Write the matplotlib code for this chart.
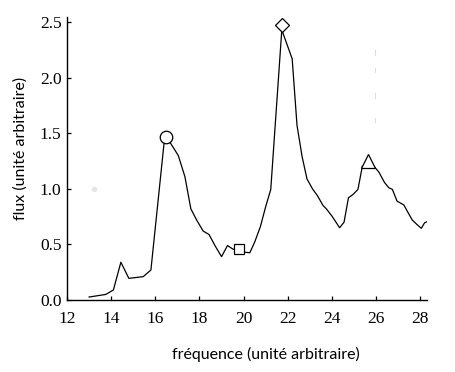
import matplotlib
matplotlib.use("Agg")
import matplotlib.pyplot as plt

freq = [13.0, 13.75, 14.1, 14.44, 14.8, 15.45, 15.8, 16.4, 16.66, 17.04, 17.34, 17.61,
        17.87, 18.17, 18.43, 18.73, 19.0, 19.27, 19.53, 19.78, 20.05, 20.28, 20.5, 20.76,
        21.0, 21.23, 21.73, 22.2, 22.42, 22.65, 22.87, 23.12, 23.34, 23.6, 23.75, 24.02,
        24.35, 24.55, 24.75, 24.96, 25.18, 25.38, 25.63, 25.9, 26.13, 26.39, 26.58, 26.74,
        26.95, 27.26, 27.44, 27.64, 27.85, 28.05, 28.2, 28.38]
flux = [0.027, 0.05, 0.09, 0.34, 0.195, 0.21, 0.27, 1.42, 1.42, 1.30, 1.11, 0.82,
        0.72, 0.62, 0.59, 0.48, 0.39, 0.49, 0.456, 0.456, 0.43, 0.425, 0.52, 0.66,
        0.84, 0.995, 2.43, 2.17, 1.57, 1.29, 1.09, 1.00, 0.94, 0.85, 0.82, 0.75,
        0.65, 0.70, 0.92, 0.95, 0.995, 1.205, 1.205, 1.205, 1.15, 1.055, 1.01, 0.995,
        0.89, 0.855, 0.79, 0.72, 0.68, 0.645, 0.695, 0.71]

marker_x = [16.47, 19.78, 21.73, 25.63]
marker_y = [1.47, 0.455, 2.47, 1.25]
marker_shapes = ['o', 's', 'D', '^']
marker_sizes = [9, 7.5, 7, 10]

xticks = [12, 14, 16, 18, 20, 22, 24, 26, 28]
yticks = [0.0, 0.5, 1.0, 1.5, 2.0, 2.5]

fig = plt.figure(figsize=(4.56, 3.72), dpi=100)
ax = fig.add_axes([0.147, 0.1935, 0.789, 0.762])
ax.plot(freq, flux, color='black', lw=0.9)
for mx, my, ms, sz in zip(marker_x, marker_y, marker_shapes, marker_sizes):
    ax.plot([mx], [my], marker=ms, ms=sz, mfc='white', mec='black', mew=0.9, ls='none')

# faint scan artefacts
ax.plot([13.2], [1.0], marker='o', ms=4, color='#e6e6e6', mec='none', ls='none')
for y0, y1 in [(2.20, 2.25), (2.05, 2.09), (1.82, 1.86), (1.60, 1.64)]:
    ax.plot([25.94, 25.94], [y0, y1], color='#dddddd', lw=0.8)

ax.set_xlim(12, 28.3)
ax.set_ylim(0, 2.55)
ax.set_xticks(xticks)
ax.set_yticks(yticks)
ax.set_xticklabels([str(t) for t in xticks], family='Liberation Serif', fontsize=12.5)
ax.set_yticklabels([f"{t:.1f}" for t in yticks], family='Liberation Serif', fontsize=12.5)
ax.tick_params(direction='in', length=3, width=0.9)
ax.tick_params(axis='x', pad=8)
ax.tick_params(axis='y', pad=4)
for s in ['top', 'right']:
    ax.spines[s].set_visible(False)
for s in ['left', 'bottom']:
    ax.spines[s].set_linewidth(1.0)

fig.text(0.583, 0.046, 'fréquence (unité arbitraire)', family='Lato', fontsize=11.5,
         ha='center', va='center')
fig.text(0.044, 0.600, 'flux (unité arbitraire)', family='Lato', fontsize=11.5,
         ha='center', va='center', rotation=90)

fig.savefig('out.png', dpi=100)
